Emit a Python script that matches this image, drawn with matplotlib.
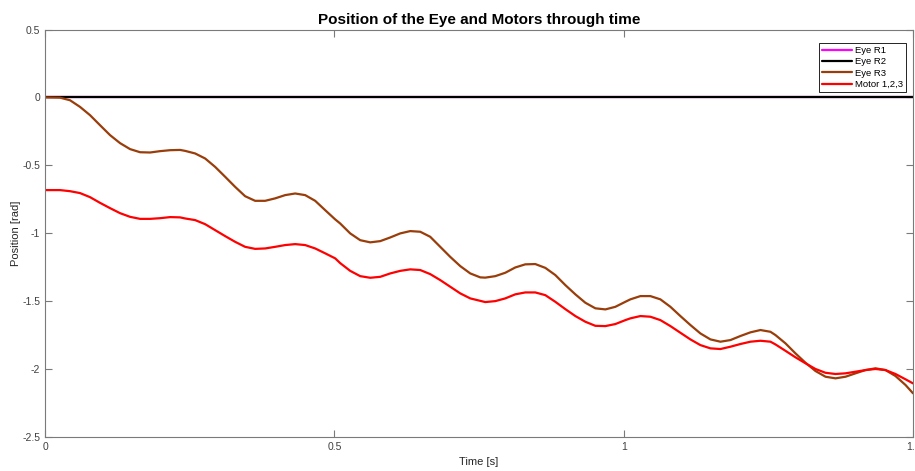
import matplotlib
matplotlib.use("Agg")
import matplotlib.pyplot as plt
import numpy as np

plt.rcParams['font.family'] = ['Liberation Sans', 'DejaVu Sans']

# sample times [s]
t = [0, 0.0259, 0.0432, 0.0605, 0.0778, 0.0951, 0.1124, 0.1297, 0.1470, 0.1643,
     0.1816, 0.1989, 0.2162, 0.2334, 0.2421, 0.2594, 0.2767, 0.2940, 0.3113, 0.3285,
     0.3458, 0.3631, 0.3804, 0.3977, 0.4150, 0.4323, 0.4496, 0.4669, 0.4842, 0.5015,
     0.5101, 0.5274, 0.5447, 0.5620, 0.5793, 0.5966, 0.6139, 0.6312, 0.6485, 0.6657,
     0.6830, 0.7003, 0.7176, 0.7349, 0.7522, 0.7608, 0.7781, 0.7954, 0.8127, 0.8300,
     0.8473, 0.8646, 0.8819, 0.8992, 0.9165, 0.9338, 0.9511, 0.9684, 0.9856, 1.0029,
     1.0116, 1.0289, 1.0462, 1.0635, 1.0808, 1.0980, 1.1153, 1.1326, 1.1499, 1.1672,
     1.1845, 1.2018, 1.2191, 1.2364, 1.2537, 1.2623, 1.2796, 1.2969, 1.3142, 1.3315,
     1.3488, 1.3661, 1.3834, 1.4007, 1.4179, 1.4352, 1.4525, 1.4698, 1.4871, 1.5]

# eye rotation about axes 1 and 2 [rad]
eye_r1 = [0.0] * len(t)
eye_r2 = [0.0] * len(t)

# eye rotation about axis 3 [rad]
eye_r3 = [0, -0.002, -0.021, -0.070, -0.131, -0.205, -0.278, -0.337, -0.381, -0.404,
          -0.406, -0.396, -0.389, -0.387, -0.394, -0.413, -0.450, -0.512, -0.585, -0.659,
          -0.728, -0.762, -0.762, -0.744, -0.720, -0.708, -0.720, -0.762, -0.831, -0.899,
          -0.929, -1.002, -1.052, -1.068, -1.059, -1.032, -1.002, -0.985, -0.990, -1.027,
          -1.101, -1.175, -1.243, -1.297, -1.326, -1.328, -1.317, -1.292, -1.253, -1.230,
          -1.228, -1.256, -1.309, -1.383, -1.451, -1.513, -1.554, -1.562, -1.543, -1.506,
          -1.488, -1.464, -1.464, -1.488, -1.543, -1.611, -1.677, -1.739, -1.783, -1.800,
          -1.788, -1.758, -1.731, -1.714, -1.727, -1.751, -1.812, -1.886, -1.955, -2.016,
          -2.058, -2.070, -2.058, -2.033, -2.009, -1.996, -2.009, -2.053, -2.119, -2.180]

# motor positions [rad]
motor = [-0.683, -0.683, -0.691, -0.705, -0.735, -0.777, -0.816, -0.853, -0.880, -0.895,
         -0.895, -0.890, -0.882, -0.884, -0.892, -0.904, -0.934, -0.978, -1.022, -1.064,
         -1.101, -1.116, -1.113, -1.101, -1.088, -1.081, -1.088, -1.113, -1.149, -1.186,
         -1.221, -1.278, -1.317, -1.329, -1.322, -1.297, -1.278, -1.267, -1.272, -1.302,
         -1.346, -1.395, -1.444, -1.481, -1.499, -1.508, -1.501, -1.481, -1.451, -1.437,
         -1.437, -1.457, -1.506, -1.560, -1.611, -1.653, -1.683, -1.685, -1.670, -1.641,
         -1.628, -1.611, -1.616, -1.641, -1.685, -1.734, -1.783, -1.825, -1.849, -1.854,
         -1.837, -1.817, -1.800, -1.793, -1.800, -1.820, -1.867, -1.915, -1.959, -2.001,
         -2.029, -2.038, -2.033, -2.021, -2.009, -2.001, -2.009, -2.038, -2.077, -2.107]

fig = plt.figure(figsize=(9.15, 4.71), dpi=100)
ax = fig.add_axes([0.0492, 0.0728, 0.9486, 0.8645])

style = dict(lw=1.6, solid_joinstyle='round', solid_capstyle='round')
ax.plot(t, eye_r1, color='#ff00ff', label='Eye R1', **style)
ax.plot(t, eye_r2, color='black', label='Eye R2', **style)
ax.plot(t, eye_r3, color='#993d0a', label='Eye R3', **style)
ax.plot(t, motor, color='#ff0000', label='Motor 1,2,3', **style)

ax.set_xlim(0, 1.5)
ax.set_ylim(-2.5, 0.5)
ax.set_xticks([0, 0.5, 1, 1.5])
ax.set_xticklabels(['0', '0.5', '1', '1.5'])
ax.set_yticks(np.arange(-2.5, 0.51, 0.5))
ax.set_yticklabels(['-2.5', '-2', '-1.5', '-1', '-0.5', '0', '0.5'])

for s in ax.spines.values():
    s.set_color('#7a7a7a')
    s.set_linewidth(0.8)
ax.tick_params(direction='in', length=5, width=0.8, color='#7a7a7a',
               labelcolor='#404040', labelsize=7.5, top=True, right=True)

ax.set_title('Position of the Eye and Motors through time', fontsize=11,
             fontweight='bold', pad=4)
ax.set_xlabel('Time [s]', fontsize=8, color='#262626', labelpad=4)
ax.set_ylabel('Position [rad]', fontsize=8, color='#262626', labelpad=1)

leg = ax.legend(loc='upper right', fontsize=6.8, frameon=True, fancybox=False,
                edgecolor='black', framealpha=1, handlelength=3.2,
                handletextpad=0.3, borderpad=0.3, labelspacing=0.25,
                bbox_to_anchor=(0.997, 0.978))
leg.get_frame().set_linewidth(0.6)

fig.savefig('out.png', dpi=100)
